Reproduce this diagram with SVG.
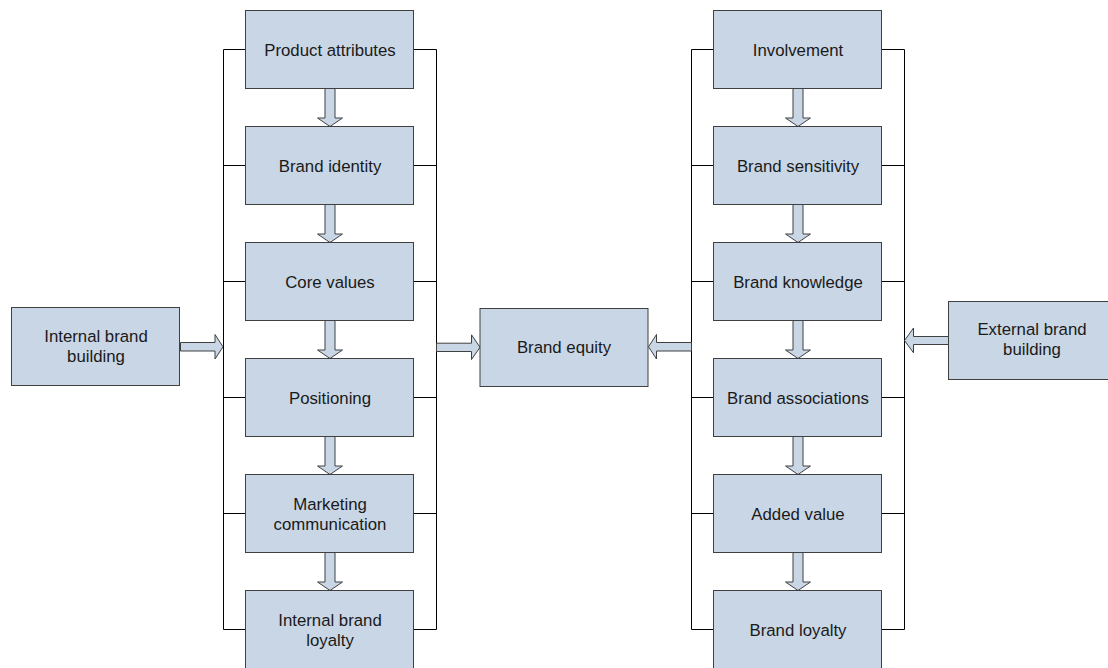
<svg xmlns="http://www.w3.org/2000/svg" xmlns:xlink="http://www.w3.org/1999/xlink" width="1108" height="668" viewBox="0 0 1108 668">
<style>
.box{fill:#C9D6E5;stroke:#404040;stroke-width:1}
.arr{fill:#C9D6E5;stroke:#404040;stroke-width:1}
.br{fill:none;stroke:#000;stroke-width:1}
text{font-family:"Liberation Sans",Arial,sans-serif;font-size:16.8px;fill:#1a1a1a;text-anchor:middle}
</style>
<defs>
<path id="down" d="M-5,0 H5 V29.5 H12.5 L0,38 L-12.5,29.5 H-5 Z"/>
</defs>
<rect width="1108" height="668" fill="#fff"/>
<g id="connectors">
<path class="br" d="M246,49.5 H223.5 V629.5 H246 M223.5,165.5 H246 M223.5,281.5 H246 M223.5,397.5 H246 M223.5,513.5 H246"/>
<path class="br" d="M414,49.5 H436.5 V629.5 H414 M436.5,165.5 H414 M436.5,281.5 H414 M436.5,397.5 H414 M436.5,513.5 H414"/>
<path class="br" d="M714,49.5 H691.5 V629.5 H714 M691.5,165.5 H714 M691.5,281.5 H714 M691.5,397.5 H714 M691.5,513.5 H714"/>
<path class="br" d="M882,49.5 H904.5 V629.5 H882 M904.5,165.5 H882 M904.5,281.5 H882 M904.5,397.5 H882 M904.5,513.5 H882"/>
<use xlink:href="#down" class="arr" x="330" y="88.5"/>
<use xlink:href="#down" class="arr" x="330" y="204.5"/>
<use xlink:href="#down" class="arr" x="330" y="320.5"/>
<use xlink:href="#down" class="arr" x="330" y="436.5"/>
<use xlink:href="#down" class="arr" x="330" y="552.5"/>
<use xlink:href="#down" class="arr" x="798" y="88.5"/>
<use xlink:href="#down" class="arr" x="798" y="204.5"/>
<use xlink:href="#down" class="arr" x="798" y="320.5"/>
<use xlink:href="#down" class="arr" x="798" y="436.5"/>
<use xlink:href="#down" class="arr" x="798" y="552.5"/>
<path class="arr" d="M180.5,342.5 H215 V334.5 L223,346.8 L215,359 V351 H180.5 Z"/>
<path class="arr" d="M436.5,343.2 H471.5 V334.8 L480,347.3 L471.5,359.5 V351.5 H436.5 Z"/>
<path class="arr" d="M691.5,342.5 H656.5 V334.5 L648.5,346.8 L656.5,359 V351 H691.5 Z"/>
<path class="arr" d="M948.5,336.5 H913.5 V328 L904.5,340.5 L913.5,352.8 V344.5 H948.5 Z"/>
</g>
<g id="product-attributes"><rect class="box" x="245.5" y="10.5" width="168" height="78"/><text x="330" y="55.5">Product attributes</text></g>
<g id="brand-identity"><rect class="box" x="245.5" y="126.5" width="168" height="78"/><text x="330" y="171.5">Brand identity</text></g>
<g id="core-values"><rect class="box" x="245.5" y="242.5" width="168" height="78"/><text x="330" y="287.5">Core values</text></g>
<g id="positioning"><rect class="box" x="245.5" y="358.5" width="168" height="78"/><text x="330" y="403.5">Positioning</text></g>
<g id="marketing-communication"><rect class="box" x="245.5" y="474.5" width="168" height="78"/><text x="330" y="509.5">Marketing</text><text x="330" y="529.5">communication</text></g>
<g id="internal-brand-loyalty"><rect class="box" x="245.5" y="590.5" width="168" height="78"/><text x="330" y="625.5">Internal brand</text><text x="330" y="645.5">loyalty</text></g>
<g id="internal-brand-building"><rect class="box" x="11.5" y="307.5" width="168" height="78"/><text x="96" y="341.5">Internal brand</text><text x="96" y="361.5">building</text></g>
<g id="brand-equity"><rect class="box" x="480" y="308.5" width="168" height="78"/><text x="564" y="353">Brand equity</text></g>
<g id="involvement"><rect class="box" x="713.5" y="10.5" width="168" height="78"/><text x="798" y="55.5">Involvement</text></g>
<g id="brand-sensitivity"><rect class="box" x="713.5" y="126.5" width="168" height="78"/><text x="798" y="171.5">Brand sensitivity</text></g>
<g id="brand-knowledge"><rect class="box" x="713.5" y="242.5" width="168" height="78"/><text x="798" y="287.5">Brand knowledge</text></g>
<g id="brand-associations"><rect class="box" x="713.5" y="358.5" width="168" height="78"/><text x="798" y="403.5">Brand associations</text></g>
<g id="added-value"><rect class="box" x="713.5" y="474.5" width="168" height="78"/><text x="798" y="519.5">Added value</text></g>
<g id="brand-loyalty"><rect class="box" x="713.5" y="590.5" width="168" height="78"/><text x="798" y="635.5">Brand loyalty</text></g>
<g id="external-brand-building"><rect class="box" x="948.5" y="301.5" width="168" height="78"/><text x="1032" y="335">External brand</text><text x="1032" y="355">building</text></g>
</svg>
